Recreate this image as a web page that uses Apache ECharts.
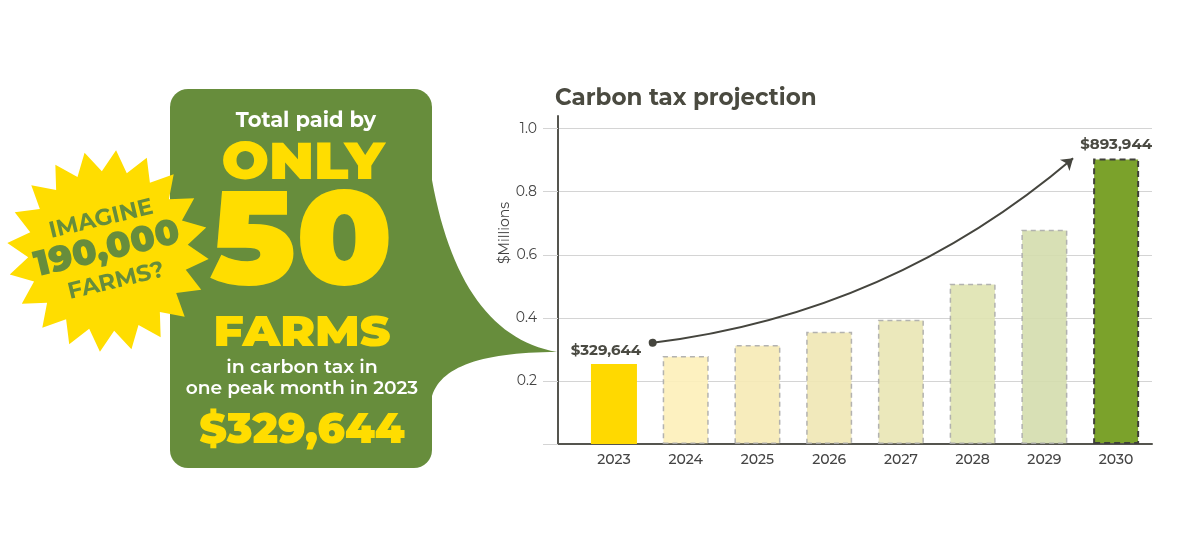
<!DOCTYPE html>
<html>
<head>
<meta charset="utf-8">
<script src="https://cdn.jsdelivr.net/npm/echarts@6/dist/echarts.min.js"></script>
<style>
  html, body { margin: 0; padding: 0; background: #fff; }
  #chart { width: 1200px; height: 540px; }
</style>
</head>
<body>
<div id="chart"></div>
<script>
// chart values ($ millions)
const years      = [2023, 2024, 2025, 2026, 2027, 2028, 2029, 2030];
const taxValues  = [0.254, 0.279, 0.314, 0.356, 0.394, 0.508, 0.679, 0.905];
const barLabels  = ['$329,644', '', '', '', '', '', '', '$893,944'];
const yTicks     = [0, 0.2, 0.4, 0.6, 0.8, 1.0];
// trend arrow, in data coords (year, $M)
const trendFrom  = [2023.54, 0.321];
const trendTo    = [2029.40, 0.906];

const barColors  = ['#FFD900', '#FDF0B9', '#F6EAB5', '#EFE7B4', '#E9E5B4', '#DFE3B0', '#D4DDAD', '#7BA22B'];

const FONT   = 'Montserrat, Inter, "Open Sans", sans-serif';
const GREEN  = '#678D3C';
const YELLOW = '#FFDD00';

document.addEventListener('DOMContentLoaded', () => {

    const chart = echarts.init(document.getElementById('chart'));

    // quadratic curve sampler for the speech bubble tail
    function quad(p0, c, p1, n) {
        const pts = [];
        for (let i = 0; i <= n; i++) {
            const t = i / n, u = 1 - t;
            pts.push([u * u * p0[0] + 2 * u * t * c[0] + t * t * p1[0],
                      u * u * p0[1] + 2 * u * t * c[1] + t * t * p1[1]]);
        }
        return pts;
    }
    const tail = [].concat(
        quad([432, 180], [460, 335], [557, 352], 30),
        quad([557, 352], [445, 352], [432, 396], 30),
        [[415, 396], [415, 180]]
    );

    // starburst
    const star = [];
    const spikes = 20, cx = 108, cy = 251, rOut = 101, rIn = 80;
    for (let i = 0; i < spikes * 2; i++) {
        const a = Math.PI * i / spikes - Math.PI / 2 + 0.08;
        const r = i % 2 === 0 ? rOut : rIn;
        star.push([cx + r * Math.cos(a), cy + r * Math.sin(a)]);
    }

    function txt(text, x, y, size, weight, fill, sx, rot) {
        return {
            type: 'text', x: x, y: y, rotation: rot || 0, scaleX: sx || 1, z: 10,
            style: { text: text, x: 0, y: 0, fill: fill, textAlign: 'center', textVerticalAlign: 'middle',
                     fontSize: size, fontWeight: weight, fontFamily: FONT }
        };
    }
    const tilt = 0.235;

    const barData = years.map((yr, i) => {
        const item = { value: [yr, taxValues[i]], itemStyle: { color: barColors[i] } };
        if (i === years.length - 1) {
            Object.assign(item.itemStyle, { borderColor: '#3f3f3a', borderWidth: 2, borderType: [6, 4] });
        } else if (i > 0) {
            Object.assign(item.itemStyle, { borderColor: '#ababab', borderWidth: 1.5, borderType: [5, 4], opacity: 0.9 });
        }
        item.label = {
            show: barLabels[i] !== '', position: 'top', distance: 6,
            offset: i === 0 ? [-8, 0] : [0, 0],
            formatter: barLabels[i], fontSize: 15, fontWeight: 'bold', color: '#4A4A42', fontFamily: FONT
        };
        return item;
    });

    const option = {
        animation: false,
        backgroundColor: '#fff',
        title: {
            text: 'Carbon tax projection', left: 555, top: 87, padding: 0,
            textStyle: { fontSize: 23, fontWeight: 'bold', color: '#4A4A40', fontFamily: FONT }
        },
        grid: { left: 558, right: 48, top: 116, bottom: 96, containLabel: false },
        xAxis: {
            type: 'value', min: 2022.22, max: 2030.5,
            axisLine: { show: true, lineStyle: { color: '#55554f', width: 2 } },
            axisTick: { show: false },
            splitLine: { show: false },
            axisLabel: { customValues: years, margin: 9, fontSize: 14, fontWeight: 500, color: '#444',
                         fontFamily: FONT, formatter: v => String(v) }
        },
        yAxis: {
            type: 'value', min: 0, max: 1.04,
            name: '$Millions', nameLocation: 'middle', nameGap: 45,
            nameTextStyle: { fontSize: 14, color: '#444', fontFamily: FONT, padding: [0, 0, 0, 94] },
            axisLine: { show: true, lineStyle: { color: '#55554f', width: 2 } },
            axisTick: { show: true, customValues: yTicks, length: 15, lineStyle: { color: '#d4d4d4' } },
            splitLine: { show: true, lineStyle: { color: '#d4d4d4', width: 1 } },
            axisLabel: { customValues: yTicks, margin: 21, fontSize: 14, color: '#444', fontFamily: FONT,
                         formatter: v => v === 0 ? '' : v.toFixed(1) }
        },
        series: [
            {
                type: 'bar', barWidth: 46, data: barData, z: 2
            },
            {
                type: 'lines', coordinateSystem: 'cartesian2d', z: 5,
                symbol: ['circle', 'arrow'], symbolSize: [8, 11],
                lineStyle: { color: '#45453e', width: 2, opacity: 1, curveness: -0.15 },
                data: [{ coords: [trendFrom, trendTo] }]
            }
        ],
        graphic: [
            { type: 'rect', shape: { x: 170, y: 89, width: 262, height: 379, r: 18 }, style: { fill: GREEN }, z: 1 },
            { type: 'polygon', shape: { points: tail }, style: { fill: GREEN }, z: 1 },
            { type: 'polygon', shape: { points: star }, style: { fill: YELLOW }, z: 5 },

            txt('Total paid by', 306, 121, 21, 'bold', '#fff', 1.0),
            txt('ONLY', 303, 164, 51, 900, YELLOW, 1.1),
            txt('50', 301, 245, 133, 900, YELLOW, 1.05),
            txt('FARMS', 302, 333, 43, 900, YELLOW, 1.09),
            txt('in carbon tax in', 302, 367, 19, 600, '#fff', 1.0),
            txt('one peak month in 2023', 302, 388, 19, 600, '#fff', 0.98),
            txt('$329,644', 302, 431, 42, 900, YELLOW, 1.0),

            txt('IMAGINE', 101, 219, 23, 'bold', GREEN, 1.0, tilt),
            txt('190,000', 107, 249, 36, 900, GREEN, 1.0, tilt),
            txt('FARMS?', 116, 281, 23, 'bold', GREEN, 1.0, tilt)
        ]
    };

    chart.setOption(option);
});
</script>
</body>
</html>
